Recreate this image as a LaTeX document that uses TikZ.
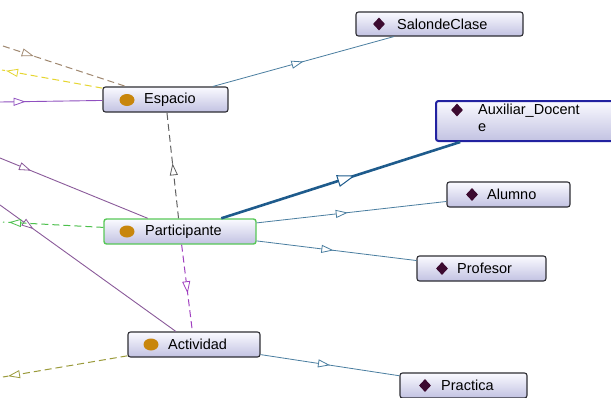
\documentclass[tikz,border=0pt]{standalone}
\usepackage{fontspec}
\setmainfont{Liberation Sans}
\usetikzlibrary{arrows.meta,decorations.markings,shapes.geometric}

\definecolor{boxline}{HTML}{2E2E34}
\definecolor{boxtop}{HTML}{FAFAFF}
\definecolor{boxbot}{HTML}{C2C2E2}
\definecolor{classdot}{HTML}{C8860C}
\definecolor{indiv}{HTML}{3C0A30}
\definecolor{selgreen}{HTML}{58C858}
\definecolor{selblue}{HTML}{2222A0}
\definecolor{isa}{HTML}{4A7EA0}
\definecolor{isathick}{HTML}{1E5B8C}
\definecolor{relgray}{HTML}{606060}
\definecolor{relpurple}{HTML}{A040C0}
\definecolor{subpurple}{HTML}{8A5A9A}
\definecolor{espviolet}{HTML}{9050C0}
\definecolor{relgreen}{HTML}{4CC04C}
\definecolor{relyellow}{HTML}{E6D630}
\definecolor{relbrown}{HTML}{A08870}
\definecolor{relolive}{HTML}{9A9A3A}

\tikzset{
  clsbox/.style={rectangle, rounded corners=2.5pt, draw=boxline, line width=1.1pt,
    top color=boxtop, bottom color=boxbot, inner sep=0pt, minimum height=25pt},
  dot/.style={ellipse, fill=classdot, inner sep=0pt, minimum width=15pt, minimum height=12pt},
  gem/.style={diamond, fill=indiv, inner sep=0pt, minimum width=12pt, minimum height=13pt},
  lbl/.style={anchor=west, inner sep=0pt},
  tipat/.style={postaction={decorate, decoration={markings,
    mark=at position #1 with {\arrow{Triangle[fill=white, length=12pt, width=8pt, line width=0.8pt]}}}}},
  bigtipat/.style={postaction={decorate, decoration={markings,
    mark=at position #1 with {\arrow{Triangle[fill=white, length=18pt, width=12pt, line width=1pt]}}}}},
  isaedge/.style={draw=isa, line width=0.8pt},
  dashrel/.style={line width=1pt, dash pattern=on 7pt off 4pt},
}

\begin{document}
\begin{tikzpicture}[x=1pt, y=-1pt, font=\fontsize{14.5}{17}\selectfont]
\clip (0,0) rectangle (611,397);
\fill[white] (0,0) rectangle (611,397);

% free ends of edges leading off to the left
\coordinate (wbrown)  at (3,46);
\coordinate (wyellow) at (2,70);
\coordinate (wviolet) at (0,102);
\coordinate (wpartA)  at (0,158);
\coordinate (wpartB)  at (0,205);
\coordinate (wgreen)  at (3,222);
\coordinate (wolive)  at (3,377);

% class boxes
\node[clsbox, minimum width=125pt] (esp) at (165.5,99.5) {};
\node[dot] (esp-d) at (127,100) {};
\node[lbl] (esp-l) at (144,100) {Espacio};

\node[clsbox, draw=selgreen, line width=1.4pt, minimum width=152pt] (par) at (180,231.5) {};
\node[dot] (par-d) at (127,231.5) {};
\node[lbl] (par-l) at (145,231.5) {Participante};

\node[clsbox, minimum width=132pt] (act) at (194,344.5) {};
\node[dot] (act-d) at (151,344.5) {};
\node[lbl] (act-l) at (168,344.5) {Actividad};

% individual boxes
\node[clsbox, minimum width=167pt, minimum height=24pt] (sal) at (439.5,24) {};
\node[gem] (sal-g) at (379,24) {};
\node[lbl] (sal-l) at (397,24) {SalondeClase};

\node[clsbox, draw=selblue, line width=2pt, minimum width=180pt, minimum height=40pt] (aux) at (526,121) {};
\node[gem] (aux-g) at (457,110) {};
\node[anchor=north west, inner sep=0pt, align=left] (aux-l) at (478,104) {Auxiliar\_Docent\\e};

\node[clsbox, minimum width=123pt] (alu) at (508.5,194.5) {};
\node[gem] (alu-g) at (472,194.5) {};
\node[lbl] (alu-l) at (487,194.5) {Alumno};

\node[clsbox, minimum width=129pt] (pro) at (481.5,268.5) {};
\node[gem] (pro-g) at (442,268.5) {};
\node[lbl] (pro-l) at (457,268.5) {Profesor};

\node[clsbox, minimum width=127pt] (pra) at (463.5,385.5) {};
\node[gem] (pra-g) at (425,385.5) {};
\node[lbl] (pra-l) at (441,385.5) {Practica};

% class-to-individual edges
\draw[isaedge, tipat=0.50] (esp) -- (sal);
\draw[draw=isathick, line width=2.6pt, bigtipat=0.56] (par) -- (aux);
\draw[isaedge, tipat=0.48] (par) -- (alu);
\draw[isaedge, tipat=0.48] (par) -- (pro);
\draw[isaedge, tipat=0.50] (act) -- (pra);

% relations between classes
\draw[relgray, dashrel, tipat=0.52] (par) -- (esp);
\draw[relpurple, dashrel, tipat=0.56] (par) -- (act);

% relations leaving the view
\draw[subpurple, line width=0.9pt, tipat=0.21] (wpartA) -- (par);
\draw[subpurple, line width=0.9pt, tipat=0.19] (wpartB) -- (act);
\draw[espviolet, line width=0.9pt, tipat=0.25] (wviolet) -- (esp);
\draw[relbrown, dashrel, tipat=0.25] (wbrown) -- (esp);
\draw[relyellow, dashrel, tipat=0.96] (esp) -- (wyellow);
\draw[relgreen, dashrel, tipat=0.94] (par) -- (wgreen);
\draw[relolive, dashrel, tipat=0.96] (act) -- (wolive);
\end{tikzpicture}
\end{document}
